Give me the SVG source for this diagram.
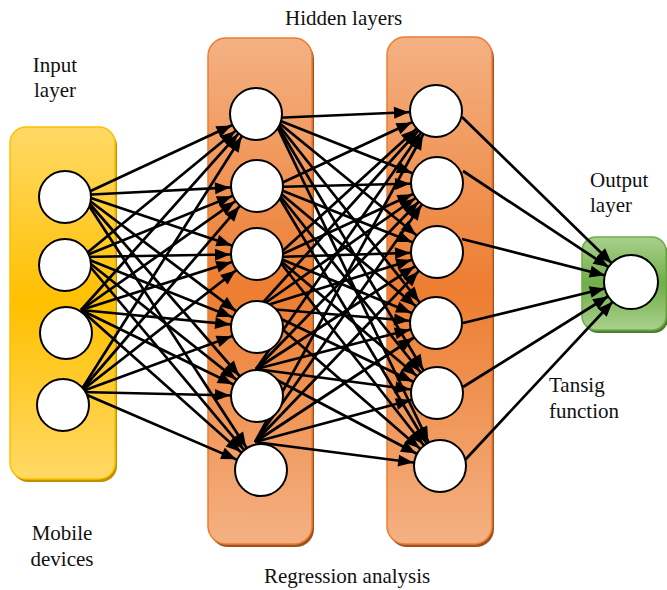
<svg xmlns="http://www.w3.org/2000/svg" width="667" height="590" viewBox="0 0 667 590">
  <defs>
    <linearGradient id="gradInput" x1="0" y1="0" x2="0" y2="1">
      <stop offset="0" stop-color="#FFD966"/>
      <stop offset="0.5" stop-color="#FFC000"/>
      <stop offset="1" stop-color="#FFD966"/>
    </linearGradient>
    <linearGradient id="gradHidden" x1="0" y1="0" x2="0" y2="1">
      <stop offset="0" stop-color="#F4B183"/>
      <stop offset="0.5" stop-color="#ED7D31"/>
      <stop offset="1" stop-color="#F4B183"/>
    </linearGradient>
    <linearGradient id="gradOutput" x1="0" y1="0" x2="0" y2="1">
      <stop offset="0" stop-color="#A9D18E"/>
      <stop offset="0.5" stop-color="#70AD47"/>
      <stop offset="1" stop-color="#A9D18E"/>
    </linearGradient>
    <!-- arrow tip sits 27px before the line end (the target node centre) -->
    <marker id="arrow" markerUnits="userSpaceOnUse" markerWidth="15" markerHeight="12"
            refX="42" refY="6" orient="auto" overflow="visible">
      <path d="M0,0 L15,6 L0,12 z" fill="#000"/>
    </marker>
  </defs>
  <style>
    .label { font-family: "Liberation Serif", "Times New Roman", serif; font-size: 21px; fill: #111; }
    .node { fill: #fff; stroke: #000; stroke-width: 2; }
    .conn line { stroke: #000; stroke-width: 2.7; marker-end: url(#arrow); }
  </style>

  <!-- layer panels -->
  <g id="layers">
    <g id="panel-input">
      <rect x="12" y="130" width="105" height="352" rx="16" fill="#BF9000"/>
      <rect x="10" y="127" width="105" height="352" rx="16" fill="url(#gradInput)" stroke="#FFC000" stroke-width="1.5"/>
    </g>
    <g id="panel-hidden1">
      <rect x="210" y="41" width="104" height="506" rx="18" fill="#A0521E"/>
      <rect x="208" y="38" width="104" height="506" rx="18" fill="url(#gradHidden)" stroke="#ED7D31" stroke-width="1.5"/>
    </g>
    <g id="panel-hidden2">
      <rect x="389" y="40" width="105" height="507" rx="18" fill="#A0521E"/>
      <rect x="387" y="37" width="105" height="507" rx="18" fill="url(#gradHidden)" stroke="#ED7D31" stroke-width="1.5"/>
    </g>
    <g id="panel-output">
      <rect x="584" y="240" width="84" height="93" rx="14" fill="#4E7F30"/>
      <rect x="582" y="237" width="84" height="93" rx="14" fill="url(#gradOutput)" stroke="#70AD47" stroke-width="1.5"/>
    </g>
  </g>

  <!-- connectors: fully connected between consecutive layers -->
  <g id="connectors" class="conn">
    <!-- input -> hidden 1 -->
    <line x1="82" y1="195" x2="256" y2="114"/>
    <line x1="82" y1="195" x2="257" y2="186"/>
    <line x1="82" y1="195" x2="257" y2="254"/>
    <line x1="82" y1="195" x2="257" y2="327"/>
    <line x1="82" y1="195" x2="257" y2="396"/>
    <line x1="82" y1="195" x2="261" y2="470"/>
    <line x1="82" y1="257" x2="256" y2="114"/>
    <line x1="82" y1="257" x2="257" y2="186"/>
    <line x1="82" y1="257" x2="257" y2="254"/>
    <line x1="82" y1="257" x2="257" y2="327"/>
    <line x1="82" y1="257" x2="257" y2="396"/>
    <line x1="82" y1="257" x2="261" y2="470"/>
    <line x1="81" y1="310" x2="256" y2="114"/>
    <line x1="81" y1="310" x2="257" y2="186"/>
    <line x1="81" y1="310" x2="257" y2="254"/>
    <line x1="81" y1="310" x2="257" y2="327"/>
    <line x1="81" y1="310" x2="257" y2="396"/>
    <line x1="81" y1="310" x2="261" y2="470"/>
    <line x1="80" y1="392" x2="256" y2="114"/>
    <line x1="80" y1="392" x2="257" y2="186"/>
    <line x1="80" y1="392" x2="257" y2="254"/>
    <line x1="80" y1="392" x2="257" y2="327"/>
    <line x1="80" y1="392" x2="257" y2="396"/>
    <line x1="80" y1="392" x2="261" y2="470"/>
    <!-- hidden 1 -> hidden 2 -->
    <line x1="273" y1="118" x2="436" y2="111"/>
    <line x1="273" y1="118" x2="437" y2="183"/>
    <line x1="273" y1="118" x2="437" y2="252"/>
    <line x1="273" y1="118" x2="436" y2="323"/>
    <line x1="273" y1="118" x2="437" y2="393"/>
    <line x1="273" y1="118" x2="440" y2="466"/>
    <line x1="273" y1="187" x2="436" y2="111"/>
    <line x1="273" y1="187" x2="437" y2="183"/>
    <line x1="273" y1="187" x2="437" y2="252"/>
    <line x1="273" y1="187" x2="436" y2="323"/>
    <line x1="273" y1="187" x2="437" y2="393"/>
    <line x1="273" y1="187" x2="440" y2="466"/>
    <line x1="276" y1="257" x2="436" y2="111"/>
    <line x1="276" y1="257" x2="437" y2="183"/>
    <line x1="276" y1="257" x2="437" y2="252"/>
    <line x1="276" y1="257" x2="436" y2="323"/>
    <line x1="276" y1="257" x2="437" y2="393"/>
    <line x1="276" y1="257" x2="440" y2="466"/>
    <line x1="258" y1="308" x2="436" y2="111"/>
    <line x1="258" y1="308" x2="437" y2="183"/>
    <line x1="258" y1="308" x2="437" y2="252"/>
    <line x1="258" y1="308" x2="436" y2="323"/>
    <line x1="258" y1="308" x2="437" y2="393"/>
    <line x1="258" y1="308" x2="440" y2="466"/>
    <line x1="256" y1="369" x2="436" y2="111"/>
    <line x1="256" y1="369" x2="437" y2="183"/>
    <line x1="256" y1="369" x2="437" y2="252"/>
    <line x1="256" y1="369" x2="436" y2="323"/>
    <line x1="256" y1="369" x2="437" y2="393"/>
    <line x1="256" y1="369" x2="440" y2="466"/>
    <line x1="255" y1="442" x2="436" y2="111"/>
    <line x1="255" y1="442" x2="437" y2="183"/>
    <line x1="255" y1="442" x2="437" y2="252"/>
    <line x1="255" y1="442" x2="436" y2="323"/>
    <line x1="255" y1="442" x2="437" y2="393"/>
    <line x1="255" y1="442" x2="440" y2="466"/>
    <!-- hidden 2 -> output -->
    <line x1="462" y1="117" x2="631" y2="282"/>
    <line x1="463" y1="171" x2="631" y2="282"/>
    <line x1="462" y1="239" x2="631" y2="282"/>
    <line x1="463" y1="323" x2="631" y2="282"/>
    <line x1="463" y1="387" x2="631" y2="282"/>
    <line x1="465" y1="460" x2="631" y2="282"/>
  </g>

  <!-- input layer nodes -->
  <g id="in1"><circle class="node" cx="65" cy="197" r="26"/></g>
  <g id="in2"><circle class="node" cx="65" cy="265" r="26"/></g>
  <g id="in3"><circle class="node" cx="66" cy="333" r="26"/></g>
  <g id="in4"><circle class="node" cx="63" cy="405" r="26"/></g>

  <!-- hidden layer 1 nodes -->
  <g id="h1-1"><circle class="node" cx="256" cy="114" r="26"/></g>
  <g id="h1-2"><circle class="node" cx="257" cy="186" r="26"/></g>
  <g id="h1-3"><circle class="node" cx="257" cy="254" r="26"/></g>
  <g id="h1-4"><circle class="node" cx="257" cy="327" r="26"/></g>
  <g id="h1-5"><circle class="node" cx="257" cy="396" r="26"/></g>
  <g id="h1-6"><circle class="node" cx="261" cy="470" r="26"/></g>

  <!-- hidden layer 2 nodes -->
  <g id="h2-1"><circle class="node" cx="436" cy="111" r="26"/></g>
  <g id="h2-2"><circle class="node" cx="437" cy="183" r="26"/></g>
  <g id="h2-3"><circle class="node" cx="437" cy="252" r="26"/></g>
  <g id="h2-4"><circle class="node" cx="436" cy="323" r="26"/></g>
  <g id="h2-5"><circle class="node" cx="437" cy="393" r="26"/></g>
  <g id="h2-6"><circle class="node" cx="440" cy="466" r="26"/></g>

  <!-- output node -->
  <g id="out1"><circle class="node" cx="631" cy="282" r="27"/></g>

  <!-- captions -->
  <g id="captions">
    <text class="label" x="285" y="25">Hidden layers</text>
    <text class="label" x="55" y="72" text-anchor="middle">Input</text>
    <text class="label" x="55" y="97" text-anchor="middle">layer</text>
    <text class="label" x="590" y="187">Output</text>
    <text class="label" x="590" y="212">layer</text>
    <text class="label" x="549" y="392">Tansig</text>
    <text class="label" x="549" y="418">function</text>
    <text class="label" x="62" y="540" text-anchor="middle">Mobile</text>
    <text class="label" x="62" y="566" text-anchor="middle">devices</text>
    <text class="label" x="264" y="583">Regression analysis</text>
  </g>
</svg>
